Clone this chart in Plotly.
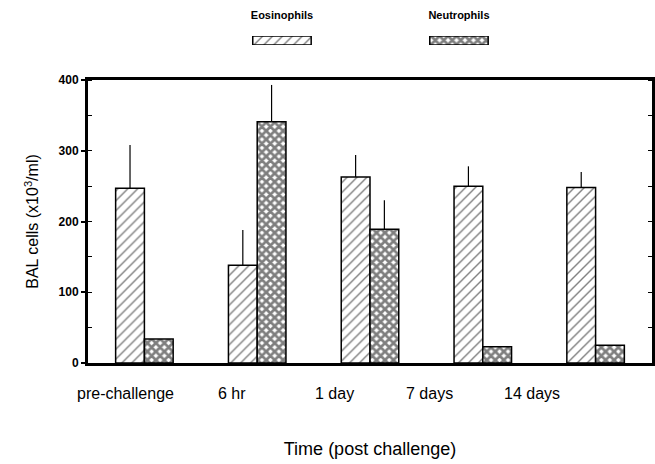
import plotly.graph_objects as go

categories = ["pre-challenge", "6 hr", "1 day", "7 days", "14 days"]
series_names = ["Eosinophils", "Neutrophils"]
eosinophils = [247, 138, 263, 250, 248]
eosinophils_err = [61, 50, 31, 28, 22]
neutrophils = [34, 341, 189, 23, 25]
neutrophils_err = [0, 52, 41, 0, 0]
y_ticks = [0, 100, 200, 300, 400]

# horizontal offset (px) of each category label as printed in the original figure
label_shift_px = [-19, -25, -36, -53, -64]

FONT = "Liberation Sans, Arial, sans-serif"
H = 464
PLOT_BOTTOM = 363  # px from top
main_top = (PLOT_BOTTOM - 80) / PLOT_BOTTOM

EOS_PATTERN = dict(shape="/", size=7, solidity=0.2)
NEU_PATTERN = dict(shape="x", size=6, solidity=0.7)


def errspec(vals):
    return dict(type="data", array=vals, arrayminus=[0] * len(vals), symmetric=False,
                color="black", thickness=1.2, width=0, visible=True)


fig = go.Figure()
fig.add_trace(go.Bar(
    x=categories, y=eosinophils, name=series_names[0],
    marker=dict(color="white", line=dict(color="black", width=1.5),
                pattern=dict(fgcolor="black", bgcolor="white", **EOS_PATTERN)),
    error_y=errspec(eosinophils_err), showlegend=False))
fig.add_trace(go.Bar(
    x=categories, y=neutrophils, name=series_names[1],
    marker=dict(color="white", line=dict(color="black", width=1.5),
                pattern=dict(fgcolor="black", bgcolor="white", **NEU_PATTERN)),
    error_y=errspec(neutrophils_err), showlegend=False))

# legend swatches drawn as a small bar chart on a separate axis
fig.add_trace(go.Bar(
    x=series_names, y=[1, 1], xaxis="x2", yaxis="y2", width=0.33,
    marker=dict(color="white", line=dict(color="black", width=1.5),
                pattern=dict(shape=[EOS_PATTERN["shape"], NEU_PATTERN["shape"]],
                             fgcolor="black", bgcolor="white",
                             size=[EOS_PATTERN["size"], NEU_PATTERN["size"]],
                             solidity=[EOS_PATTERN["solidity"], NEU_PATTERN["solidity"]])),
    showlegend=False, hoverinfo="skip"))

annotations = []
for cat, dx in zip(categories, label_shift_px):
    annotations.append(dict(
        x=cat, xref="x", y=0, yref="y", yshift=-30, xshift=dx,
        text=cat, showarrow=False, xanchor="center", yanchor="middle",
        font=dict(size=16, family=FONT, color="black")))

fig.update_layout(
    width=655, height=H,
    margin=dict(l=88, r=3, t=0, b=H - PLOT_BOTTOM),
    paper_bgcolor="white", plot_bgcolor="white",
    barmode="group", bargap=0.49, bargroupgap=0,
    font=dict(family=FONT, color="black"),
    annotations=annotations,
    xaxis=dict(
        domain=[0, 1], range=[-0.5, 4.5], showline=True, linecolor="black", linewidth=3,
        mirror=True, showgrid=False, zeroline=False, showticklabels=False,
        title=dict(text="Time (post challenge)", font=dict(size=18, family=FONT), standoff=78),
        automargin=False,
    ),
    yaxis=dict(
        domain=[0, main_top], range=[0, 400], tickvals=y_ticks,
        showline=True, linecolor="black", linewidth=3, mirror="ticks",
        showgrid=False, zeroline=False,
        ticks="outside", ticklen=4, tickwidth=2, tickcolor="black",
        minor=dict(dtick=50, ticks="inside", ticklen=4, tickwidth=1, tickcolor="black"),
        tickfont=dict(size=12, family=FONT, weight="bold"),
        title=dict(text="BAL cells (x10<sup>3</sup>/ml)", font=dict(size=16, family=FONT), standoff=16),
        automargin=False,
    ),
    xaxis2=dict(
        domain=[0.187, 0.8147], anchor="y2", side="top", range=[-0.5, 1.5],
        showline=False, showgrid=False, zeroline=False,
        ticks="outside", ticklen=12, tickcolor="rgba(0,0,0,0)",
        tickfont=dict(size=11, family=FONT, weight="bold"),
        automargin=False,
    ),
    yaxis2=dict(
        domain=[(PLOT_BOTTOM - 45) / PLOT_BOTTOM, (PLOT_BOTTOM - 36) / PLOT_BOTTOM],
        anchor="x2", range=[0, 1], visible=False,
    ),
)

fig.write_html("out.html")
